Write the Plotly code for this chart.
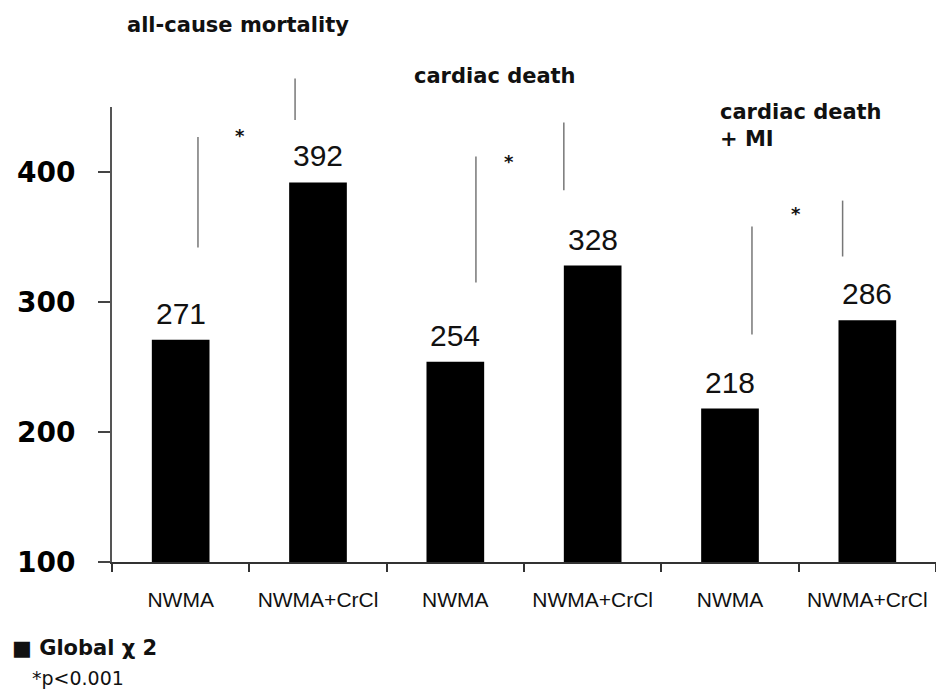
import plotly.graph_objects as go

# ---- data ----
categories = ["NWMA", "NWMA+CrCl", "NWMA", "NWMA+CrCl", "NWMA", "NWMA+CrCl"]
global_chi2 = [271, 392, 254, 328, 218, 286]
y_ticks = [100, 200, 300, 400]
endpoint_labels = ["all-cause mortality", "cardiac death", "cardiac death<br>+ MI"]
series_name = "Global χ 2"
footnote = "*p<0.001"

positions = list(range(len(categories)))
Y0, Y1 = 100, 450


def py(v):
    """data y value -> paper y (not clipped)"""
    return (v - Y0) / (Y1 - Y0)


fig = go.Figure()
fig.add_trace(go.Bar(
    x=positions, y=global_chi2, width=0.42,
    marker=dict(color="black", line=dict(width=0)),
    name=series_name, showlegend=False, hoverinfo="x+y",
))

# significance bracket lines (category position, y from, y to)
brackets = [
    (0.126, 342, 427), (0.833, 440, 472),
    (2.15, 315, 412), (2.79, 386, 438),
    (4.16, 275, 358), (4.82, 335, 378),
]
shapes = []
for bx, ya, yb in brackets:
    shapes.append(dict(type="line", xref="x", yref="paper", x0=bx, x1=bx,
                       y0=py(ya), y1=py(yb), line=dict(color="#777", width=1.5)))

annotations = []
# value labels above the bars, taken from the data
for xv, yv in zip(positions, global_chi2):
    annotations.append(dict(x=xv, y=yv, xref="x", yref="y", text=str(yv),
                            showarrow=False, yanchor="bottom", yshift=8,
                            font=dict(family="Liberation Sans, Arial", size=30, color="#111")))

for sx, sy in [(0.432, 438), (2.39, 418), (4.48, 378)]:
    annotations.append(dict(x=sx, y=py(sy), xref="x", yref="paper", text="<b>*</b>",
                            showarrow=False, font=dict(family="DejaVu Sans", size=18, color="#111")))

title_font = dict(family="DejaVu Sans", size=21, color="#111")
annotations.append(dict(x=0.42, y=py(513), xref="x", yref="paper",
                        text="<b>" + endpoint_labels[0] + "</b>",
                        showarrow=False, font=title_font, xanchor="center", yanchor="middle"))
annotations.append(dict(x=2.29, y=py(474), xref="x", yref="paper",
                        text="<b>" + endpoint_labels[1] + "</b>",
                        showarrow=False, font=title_font, xanchor="center", yanchor="middle"))
annotations.append(dict(x=3.91, y=py(457), xref="x", yref="paper",
                        text="<b>" + endpoint_labels[2] + "</b>",
                        showarrow=False, font=title_font, xanchor="left", yanchor="top", align="left"))

annotations.append(dict(x=-0.124, y=-0.189, xref="paper", yref="paper",
                        text="<b>■ " + series_name + "</b>", showarrow=False,
                        xanchor="left", yanchor="middle",
                        font=dict(family="DejaVu Sans", size=21, color="#111")))
annotations.append(dict(x=-0.10, y=-0.255, xref="paper", yref="paper",
                        text=footnote, showarrow=False, xanchor="left", yanchor="middle",
                        font=dict(family="DejaVu Sans", size=19, color="#111")))

fig.update_layout(
    width=936, height=695,
    margin=dict(l=112, r=0, t=107, b=133),
    paper_bgcolor="white", plot_bgcolor="white",
    shapes=shapes, annotations=annotations,
    xaxis=dict(
        range=[-0.5, 5.5], tickvals=positions, ticktext=categories,
        ticks="", showline=True, linecolor="#333", linewidth=1.5,
        showgrid=False, zeroline=False,
        tickfont=dict(family="Liberation Sans, Arial", size=21, color="#111"),
        ticklabelstandoff=18,
        minor=dict(tick0=-0.5, dtick=1, ticks="outside", ticklen=8,
                   tickcolor="#333", tickwidth=1.5, showgrid=False),
    ),
    yaxis=dict(
        range=[Y0, Y1], tickvals=y_ticks, ticks="outside", ticklen=12,
        tickcolor="#444", tickwidth=2,
        showline=True, linecolor="#555", linewidth=2,
        showgrid=False, zeroline=False,
        tickfont=dict(family="DejaVu Sans", size=28, color="black", weight="bold"),
        ticklabelstandoff=17,
    ),
)

fig.write_html("out.html", config={"displayModeBar": False},
               post_script="document.body.style.margin='0px';document.body.style.padding='0px';")
